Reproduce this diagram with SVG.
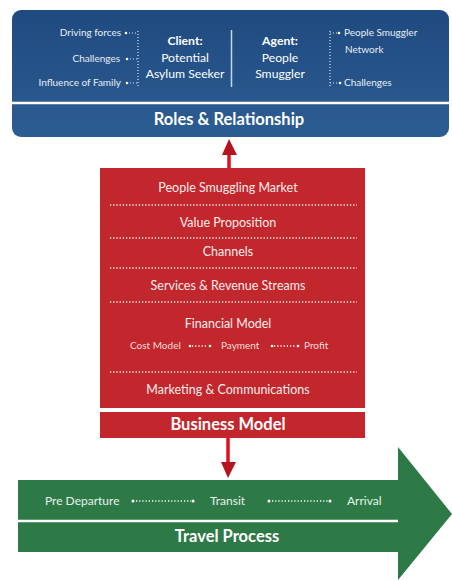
<svg xmlns="http://www.w3.org/2000/svg" width="452" height="580" viewBox="0 0 452 580">
<defs>
<linearGradient id="gBlue" x1="0" y1="0" x2="0" y2="1">
<stop offset="0" stop-color="#1f4a80"/>
<stop offset="1" stop-color="#2c5d92"/>
</linearGradient>
<style>
text{font-family:Lato,"Open Sans","Liberation Sans",sans-serif;fill:#ffffff}
.sm{font-size:10px;fill:#e8eef6}
.md{font-size:12.2px}
.rd{font-size:12.5px;fill:#fbecea}
.gr{font-size:12px;fill:#e6f1ea}
.b{font-weight:bold}
.t{font-size:16.5px;font-weight:bold}
.dot{stroke:#ffffff;stroke-width:1.4;stroke-dasharray:1.2 2;fill:none}
.dotl{stroke:#dfe7f2;stroke-width:1.2;stroke-dasharray:1 2;fill:none}
.sep{stroke:#ffffff;stroke-width:2.5}
.bul{fill:#ffffff}
</style>
</defs>
<rect width="452" height="580" fill="#ffffff"/>

<g id="roles">
<rect x="12" y="10" width="437" height="127" rx="9" fill="url(#gBlue)"/>
<line class="sep" x1="12" y1="103" x2="449" y2="103"/>
<text class="t" x="229" y="125" text-anchor="middle">Roles &amp; Relationship</text>
<text class="sm" x="121" y="36" text-anchor="end">Driving forces</text>
<text class="sm" x="120" y="62" text-anchor="end">Challenges</text>
<text class="sm" x="121" y="86" text-anchor="end">Influence of Family</text>
<circle class="bul" cx="126" cy="33" r="1.3"/>
<circle class="bul" cx="127" cy="59" r="1.3"/>
<circle class="bul" cx="127" cy="83" r="1.3"/>
<path class="dotl" d="M129 33H138M130 59H138M130 83H138M138 31V86"/>
<text class="md b" x="185" y="45" text-anchor="middle">Client:</text>
<text class="md" x="185" y="62" text-anchor="middle">Potential</text>
<text class="md" x="185" y="77.5" text-anchor="middle">Asylum Seeker</text>
<line x1="231.5" y1="30" x2="231.5" y2="87" stroke="#c9d6e6" stroke-width="1.5"/>
<text class="md b" x="280" y="45" text-anchor="middle">Agent:</text>
<text class="md" x="280" y="62" text-anchor="middle">People</text>
<text class="md" x="280" y="77.5" text-anchor="middle">Smuggler</text>
<path class="dotl" d="M330 31V86M330 33H337M330 83H338"/>
<circle class="bul" cx="339" cy="33" r="1.3"/>
<circle class="bul" cx="340" cy="83" r="1.3"/>
<text class="sm" x="344" y="36">People Smuggler</text>
<text class="sm" x="345" y="53">Network</text>
<text class="sm" x="344" y="86">Challenges</text>
</g>

<g id="business">
<rect x="100" y="168" width="265" height="240" fill="#c2272d"/>
<rect x="100" y="412" width="265" height="26" fill="#c2272d"/>
<text class="rd" x="228" y="192" text-anchor="middle">People Smuggling Market</text>
<line class="dot" x1="110" y1="205" x2="357" y2="205"/>
<text class="rd" x="228" y="227" text-anchor="middle">Value Proposition</text>
<line class="dot" x1="110" y1="238" x2="357" y2="238"/>
<text class="rd" x="228" y="256" text-anchor="middle">Channels</text>
<line class="dot" x1="110" y1="268" x2="357" y2="268"/>
<text class="rd" x="228" y="290" text-anchor="middle">Services &amp; Revenue Streams</text>
<line class="dot" x1="110" y1="302" x2="357" y2="302"/>
<text class="rd" x="228" y="328" text-anchor="middle">Financial Model</text>
<text class="sm" x="130" y="349" style="fill:#f6dcdb">Cost Model</text>
<circle class="bul" cx="190" cy="346" r="1.3"/>
<line class="dot" x1="192" y1="346" x2="208" y2="346"/>
<circle class="bul" cx="210" cy="346" r="1.3"/>
<text class="sm" x="221" y="349" style="fill:#f6dcdb">Payment</text>
<circle class="bul" cx="272" cy="346" r="1.3"/>
<line class="dot" x1="274" y1="346" x2="296" y2="346"/>
<circle class="bul" cx="298" cy="346" r="1.3"/>
<text class="sm" x="304" y="349" style="fill:#f6dcdb">Profit</text>
<line class="dot" x1="110" y1="372" x2="357" y2="372"/>
<text class="rd" x="228" y="394" text-anchor="middle">Marketing &amp; Communications</text>
<text class="t" x="228" y="430" text-anchor="middle">Business Model</text>
</g>

<g id="travel">
<path d="M18 480H398V447L452 514L398 580V552H18Z" fill="#2e7a47"/>
<line class="sep" x1="18" y1="521" x2="398" y2="521"/>
<text class="gr" x="45" y="505">Pre Departure</text>
<circle class="bul" cx="133" cy="501" r="1.5"/>
<line class="dot" x1="136" y1="501" x2="191" y2="501"/>
<circle class="bul" cx="193" cy="501" r="1.5"/>
<text class="gr" x="210" y="505">Transit</text>
<circle class="bul" cx="269" cy="501" r="1.5"/>
<line class="dot" x1="272" y1="501" x2="328" y2="501"/>
<circle class="bul" cx="330" cy="501" r="1.5"/>
<text class="gr" x="347" y="505">Arrival</text>
<text class="t" x="227" y="542" text-anchor="middle">Travel Process</text>
</g>

<g id="connectors">
<line x1="229" y1="168" x2="229" y2="153" stroke="#e0101e" stroke-width="3.5"/>
<path d="M222 155L229 139L237 155Z" fill="#b5141f"/>
<line x1="228" y1="438" x2="228" y2="463" stroke="#e0101e" stroke-width="3.5"/>
<path d="M221 462L228 478L236 462Z" fill="#b5141f"/>
</g>
</svg>
